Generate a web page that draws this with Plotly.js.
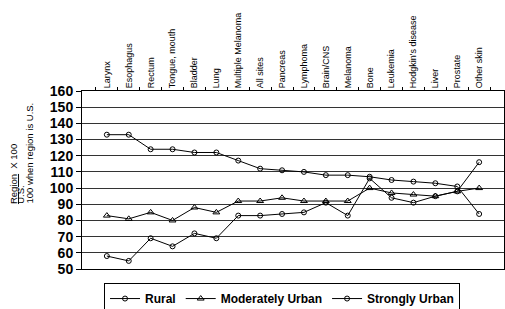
<!DOCTYPE html>
<html>
<head>
<meta charset="utf-8">
<script src="https://cdn.plot.ly/plotly-3.0.1.min.js"></script>
<style>html,body{margin:0;padding:0;background:#fff;}#chart{width:505px;height:309px;}</style>
</head>
<body>
<div id="chart"></div>
<script>
const categories = ["Larynx","Esophagus","Rectum","Tongue, mouth","Bladder","Lung","Multiple Melanoma","All sites","Pancreas","Lymphoma","Brain/CNS","Melanoma","Bone","Leukemia","Hodgkin's disease","Liver","Prostate","Other skin"];
const rural = [58,55,69,64,72,69,83,83,84,85,91,83,106,94,91,95,98,116];
const moderatelyUrban = [83,81,85,80,88,85,92,92,94,92,92,92,100,97,96,95,98,100];
const stronglyUrban = [133,133,124,124,122,122,117,112,111,110,108,108,107,105,104,103,101,84];
const seriesNames = ["Rural","Moderately Urban","Strongly Urban"];

const F = "Arial, 'Liberation Sans', sans-serif";
function tr(name, y, sym) {
  return {
    x: categories, y: y, name: name, type: 'scatter', mode: 'lines+markers',
    line: {color: '#000', width: 1},
    marker: {symbol: sym, size: sym === 'triangle-up-open' ? 6 : 5, color: '#000', line: {color: '#000', width: 1}}
  };
}
const data = [
  tr(seriesNames[0], rural, 'circle-open'),
  tr(seriesNames[1], moderatelyUrban, 'triangle-up-open'),
  tr(seriesNames[2], stronglyUrban, 'circle-open')
];
const layout = {
  width: 505, height: 309,
  margin: {l: 82, r: 1, t: 91, b: 40, pad: 0, autoexpand: false},
  paper_bgcolor: '#fff', plot_bgcolor: '#fff',
  font: {family: F, color: '#000'},
  showlegend: true,
  xaxis: {
    side: 'top', type: 'category', tickangle: -90,
    ticks: 'outside', ticklen: 3, tickcolor: '#000', tickson: 'boundaries',
    tickfont: {family: F, size: 9, color: '#000'},
    showline: true, linecolor: '#000', linewidth: 1, mirror: true,
    showgrid: false, zeroline: false, automargin: false
  },
  yaxis: {
    range: [50, 160], dtick: 10, tick0: 50,
    ticks: 'outside', ticklen: 5, tickcolor: '#000',
    tickfont: {family: F, size: 14, color: '#000', weight: 'bold'},
    showline: true, linecolor: '#000', linewidth: 1, mirror: true,
    showgrid: true, gridcolor: '#333', gridwidth: 1, zeroline: false, automargin: false
  },
  legend: {
    orientation: 'h', x: 0.474, xanchor: 'center', y: -0.079, yanchor: 'top',
    bordercolor: '#000', borderwidth: 1, bgcolor: '#fff',
    font: {family: F, size: 12, color: '#000', weight: 'bold'},
    itemwidth: 30, tracegroupgap: 0
  },
  annotations: [
    {text: '<u>Region</u>  X 100', x: -0.1610, y: 0.3596},
    {text: 'U.S.', x: -0.1449, y: 0.3596},
    {text: '100 when region is U.S.', x: -0.1253, y: 0.3596}
  ].map(a => Object.assign({xref: 'paper', yref: 'paper', textangle: -90, showarrow: false,
    xanchor: 'center', yanchor: 'bottom', borderpad: 0, font: {family: F, size: 9.5, color: '#000'}}, a))
};
Plotly.newPlot('chart', data, layout, {displayModeBar: false, staticPlot: true});
</script>
</body>
</html>
